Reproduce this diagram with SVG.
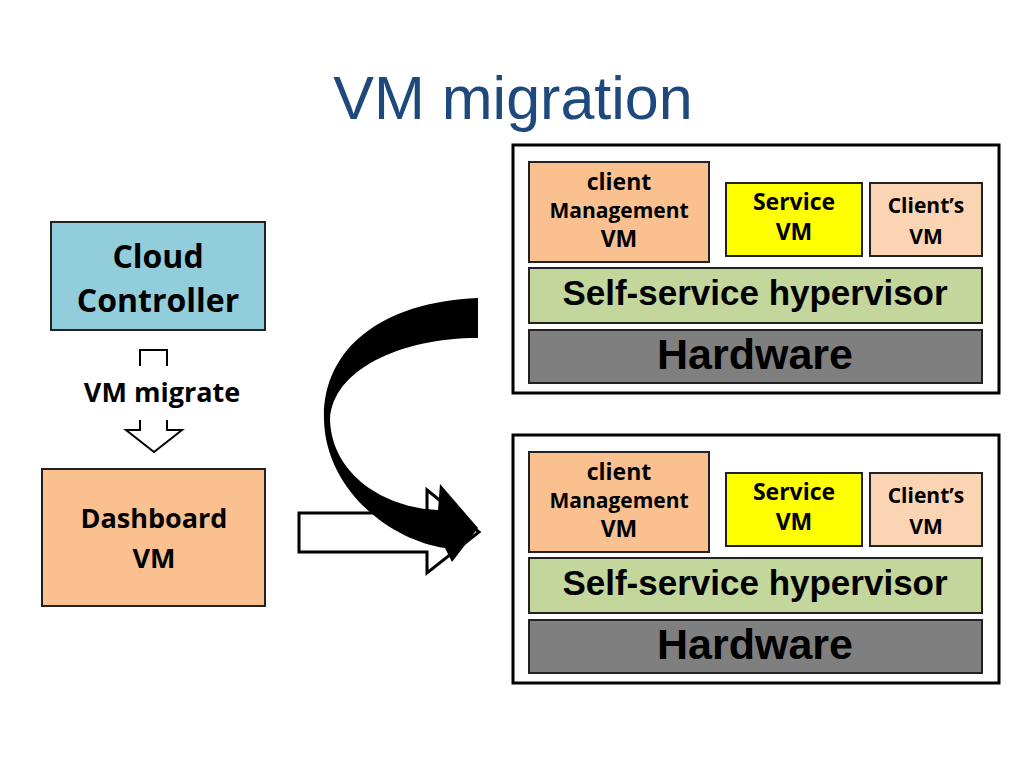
<svg xmlns="http://www.w3.org/2000/svg" width="1024" height="768" viewBox="0 0 1024 768">
<style>
.b{font-family:"Open Sans","Liberation Sans",sans-serif;font-weight:bold;text-anchor:middle}
.a{font-family:"Liberation Sans",Arial,sans-serif;font-weight:bold;text-anchor:middle}
.s{stroke:#222;stroke-width:2}
</style>
<rect width="1024" height="768" fill="#fff"/>
<text x="513" y="119" font-family="Liberation Sans,Arial,sans-serif" font-size="61" fill="#1f497d" text-anchor="middle">VM migration</text>
<g id="cloud-controller"><rect x="51" y="222" width="214" height="108" fill="#92cddc" class="s"/>
<text class="b" x="158" y="268" font-size="32">Cloud</text><text class="b" x="158" y="312" font-size="32">Controller</text></g>
<g id="dashboard"><rect x="42" y="469" width="223" height="137" fill="#fac090" class="s"/>
<text class="b" x="154" y="528" font-size="27">Dashboard</text><text class="b" x="154" y="568" font-size="27">VM</text></g>
<g id="connectors">
<path d="M140,366 V350 H167 V366" fill="none" stroke="#000" stroke-width="2"/>
<text class="b" x="162" y="402" font-size="27">VM migrate</text>
<path d="M140,420 V430 H126 L154,452 L182,430 H167 V420" fill="#fff" stroke="#000" stroke-width="2"/>
<path d="M299,513 H427 V490 L479,532 L427,573 V552 H299 Z" fill="#fff" stroke="#000" stroke-width="3"/>
<path d="M478,298 C380,302 322,350 324,420 C326,490 390,540 445,548 L452,562 L478,528 L440,484 L438,510 C385,508 332,475 330,420 C332,370 400,338 478,338 Z" fill="#000"/>
</g>
<g id="server-top">
<rect x="513" y="145" width="486" height="248" fill="#fff" stroke="#000" stroke-width="3"/>
<rect x="529" y="162" width="180" height="100" fill="#fac090" class="s"/>
<text class="b" x="619" y="190" font-size="23">client</text><text class="b" x="619" y="218" font-size="21">Management</text><text class="b" x="619" y="247" font-size="23">VM</text>
<rect x="726" y="183" width="136" height="73" fill="#ffff00" class="s"/>
<text class="b" x="794" y="210" font-size="23">Service</text><text class="b" x="794" y="240" font-size="23">VM</text>
<rect x="870" y="183" width="112" height="73" fill="#fbd4b4" class="s"/>
<text class="b" x="926" y="213" font-size="21">Client’s</text><text class="b" x="926" y="244" font-size="21">VM</text>
<rect x="529" y="268" width="453" height="55" fill="#c3d69b" class="s"/>
<text class="a" x="755" y="305" font-size="35">Self-service hypervisor</text>
<rect x="529" y="330" width="453" height="53" fill="#7f7f7f" class="s"/>
<text class="a" x="755" y="369" font-size="43">Hardware</text>
</g>
<g id="server-bottom">
<rect x="513" y="435" width="486" height="248" fill="#fff" stroke="#000" stroke-width="3"/>
<rect x="529" y="452" width="180" height="100" fill="#fac090" class="s"/>
<text class="b" x="619" y="480" font-size="23">client</text><text class="b" x="619" y="508" font-size="21">Management</text><text class="b" x="619" y="537" font-size="23">VM</text>
<rect x="726" y="473" width="136" height="73" fill="#ffff00" class="s"/>
<text class="b" x="794" y="500" font-size="23">Service</text><text class="b" x="794" y="530" font-size="23">VM</text>
<rect x="870" y="473" width="112" height="73" fill="#fbd4b4" class="s"/>
<text class="b" x="926" y="503" font-size="21">Client’s</text><text class="b" x="926" y="534" font-size="21">VM</text>
<rect x="529" y="558" width="453" height="55" fill="#c3d69b" class="s"/>
<text class="a" x="755" y="595" font-size="35">Self-service hypervisor</text>
<rect x="529" y="620" width="453" height="53" fill="#7f7f7f" class="s"/>
<text class="a" x="755" y="659" font-size="43">Hardware</text>
</g>
</svg>
